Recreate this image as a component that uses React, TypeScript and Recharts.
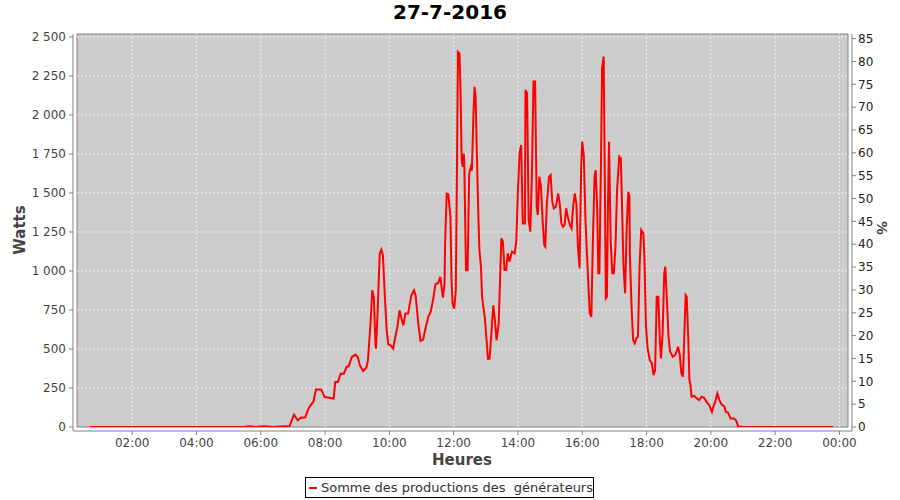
import React from "react";
import {
  LineChart,
  Line,
  XAxis,
  YAxis,
  ReferenceArea,
  ReferenceLine,
} from "recharts";

// heures de relevé (HH:MM) et puissance totale en watts
const TIMES = [
  "00:41", "01:10", "01:40", "02:10", "02:40", "03:10", "03:40", "04:10", "04:40", "05:10",
  "05:30", "05:36", "05:44", "05:50", "06:04", "06:14", "06:22", "06:38", "06:48", "06:53",
  "07:02", "07:09", "07:15", "07:23", "07:29", "07:34", "07:38", "07:43", "07:53", "07:59",
  "08:08", "08:16", "08:19", "08:24", "08:29", "08:35", "08:40", "08:44", "08:50", "08:57",
  "09:01", "09:05", "09:11", "09:17", "09:20", "09:25", "09:28", "09:31", "09:34", "09:35",
  "09:38", "09:42", "09:45", "09:48", "09:51", "09:55", "09:58", "10:02", "10:07", "10:11",
  "10:15", "10:19", "10:22", "10:26", "10:30", "10:35", "10:41", "10:46", "10:49", "10:54",
  "10:58", "11:03", "11:08", "11:13", "11:17", "11:22", "11:26", "11:31", "11:35", "11:40",
  "11:43", "11:44", "11:47", "11:50", "11:54", "11:56", "11:58", "12:01", "12:04", "12:06",
  "12:08", "12:11", "12:13", "12:15", "12:17", "12:19", "12:20", "12:23", "12:26", "12:29",
  "12:32", "12:34", "12:37", "12:39", "12:41", "12:43", "12:46", "12:48", "12:51", "12:53",
  "12:58", "13:01", "13:04", "13:07", "13:10", "13:12", "13:14", "13:17", "13:20", "13:24",
  "13:26", "13:29", "13:32", "13:35", "13:38", "13:41", "13:44", "13:49", "13:54", "13:57",
  "14:00", "14:03", "14:06", "14:09", "14:13", "14:14", "14:17", "14:20", "14:23", "14:26",
  "14:29", "14:32", "14:35", "14:37", "14:40", "14:43", "14:46", "14:49", "14:51", "14:54",
  "14:58", "15:01", "15:04", "15:07", "15:11", "15:15", "15:18", "15:21", "15:24", "15:27",
  "15:30", "15:33", "15:37", "15:40", "15:43", "15:46", "15:49", "15:52", "15:55", "15:58",
  "16:00", "16:03", "16:06", "16:09", "16:11", "16:14", "16:17", "16:20", "16:23", "16:25",
  "16:28", "16:30", "16:32", "16:35", "16:37", "16:40", "16:42", "16:44", "16:46", "16:48",
  "16:50", "16:53", "16:56", "16:59", "17:02", "17:05", "17:09", "17:12", "17:14", "17:17",
  "17:20", "17:23", "17:26", "17:28", "17:29", "17:32", "17:35", "17:38", "17:41", "17:44",
  "17:47", "17:50", "17:54", "17:56", "17:59", "18:02", "18:06", "18:10", "18:13", "18:16",
  "18:19", "18:22", "18:25", "18:27", "18:30", "18:33", "18:35", "18:38", "18:41", "18:44",
  "18:49", "18:53", "18:56", "18:59", "19:02", "19:05", "19:08", "19:11", "19:13", "19:15",
  "19:18", "19:20", "19:22", "19:24", "19:29", "19:34", "19:38", "19:43", "19:47", "19:52",
  "19:57", "20:02", "20:05", "20:08", "20:12", "20:16", "20:20", "20:25", "20:28", "20:32",
  "20:37", "20:43", "20:47", "20:51", "21:00", "21:30", "22:00", "22:30", "23:00", "23:30",
  "23:48",
];

const WATTS = [
  0, 0, 0, 0, 0, 0, 0, 0, 0, 0,
  0, 5, 4, 0, 4, 3, 0, 3, 4, 0,
  79, 43, 60, 62, 117, 145, 160, 241, 241, 192,
  188, 182, 288, 288, 342, 342, 385, 389, 449, 464,
  449, 395, 359, 380, 427, 673, 876, 833, 534, 502,
  727, 1111, 1137, 1100, 876, 620, 530, 524, 502, 577,
  641, 748, 705, 652, 727, 727, 844, 876, 844, 662,
  551, 560, 641, 710, 737, 823, 915, 923, 962, 830,
  919, 1175, 1496, 1492, 1346, 940, 791, 759, 876, 1581,
  2404, 2393, 2116, 1710, 1667, 1752, 1667, 1004, 1004, 1624,
  1667, 1645, 2009, 2180, 2116, 1795, 1368, 1133, 1026, 833,
  705, 577, 438, 438, 577, 684, 780, 684, 556, 662,
  876, 1209, 1188, 1006, 1006, 1113, 1060, 1124, 1113, 1199,
  1519, 1754, 1808, 1305, 1305, 2160, 2139, 1327, 1252, 1605,
  2214, 2214, 1412, 1359, 1605, 1540, 1327, 1167, 1156, 1434,
  1605, 1615, 1444, 1402, 1412, 1498, 1434, 1305, 1284, 1295,
  1402, 1348, 1295, 1273, 1412, 1498, 1434, 1156, 1017, 1669,
  1829, 1733, 1327, 1092, 942, 728, 707, 1220, 1605, 1647,
  1391, 985, 985, 1712, 2300, 2374, 1626, 825, 835, 1412,
  1829, 1199, 985, 985, 1156, 1519, 1733, 1722, 1455, 1028,
  857, 1284, 1508, 1476, 1092, 771, 557, 536, 568, 579,
  1028, 1263, 1241, 1092, 643, 504, 429, 408, 333, 365,
  835, 835, 536, 440, 600, 985, 1028, 814, 579, 483,
  450, 461, 483, 515, 461, 344, 322, 643, 846, 835,
  557, 301, 269, 194, 200, 183, 172, 194, 189, 161,
  140, 97, 133, 161, 215, 172, 144, 133, 97, 92,
  54, 54, 43, 4, 0, 0, 0, 0, 0, 0,
  0,
];

const HOUR_TICKS = [2, 4, 6, 8, 10, 12, 14, 16, 18, 20, 22, 24];
const WATT_TICKS = [0, 250, 500, 750, 1000, 1250, 1500, 1750, 2000, 2250, 2500];
const PCT_TICKS = [0, 5, 10, 15, 20, 25, 30, 35, 40, 45, 50, 55, 60, 65, 70, 75, 80, 85];

const X_MIN = 17;
const X_MAX = 1456;
const Y_MAX = 2519;
const PCT_MAX = 86;

const toMinutes = (s: string) => {
  const [h, m] = s.split(":").map(Number);
  return h * 60 + m;
};

const data = TIMES.map((t, i) => ({ t: toMinutes(t), w: WATTS[i] }));
const xTicks = HOUR_TICKS.map((h) => h * 60);

const fmtHour = (v: number) => {
  const h = Math.round(v / 60) % 24;
  return `${String(h).padStart(2, "0")}:00`;
};
const fmtWatt = (v: number) =>
  v >= 1000 ? `${Math.floor(v / 1000)} ${String(v % 1000).padStart(3, "0")}` : String(v);

const FONT = "'DejaVu Sans', sans-serif";
const GRID = "#eeeeee";
const AXIS = "#808080";

export default function App() {
  return (
    <div
      style={{
        position: "absolute",
        left: 0,
        top: 0,
        width: 900,
        height: 500,
        background: "#fff",
        fontFamily: FONT,
      }}
    >
      <div
        style={{
          position: "absolute",
          top: 0,
          left: 0,
          width: 900,
          textAlign: "center",
          fontWeight: "bold",
          fontSize: 20,
          lineHeight: "25px",
          color: "#000",
        }}
      >
        27-7-2016
      </div>

      <LineChart
        width={900}
        height={500}
        data={data}
        margin={{ top: 34, right: 0, bottom: 0, left: 0 }}
      >
        <XAxis
          dataKey="t"
          type="number"
          domain={[X_MIN, X_MAX]}
          ticks={xTicks}
          tickFormatter={fmtHour}
          allowDataOverflow
          height={69}
          padding={{ left: 4, right: 4 }}
          stroke={AXIS}
          tickSize={4}
          tickMargin={3}
          tick={{ fill: "#444", fontSize: 12, fontFamily: FONT }}
        />
        <YAxis
          type="number"
          domain={[0, Y_MAX]}
          ticks={WATT_TICKS}
          tickFormatter={fmtWatt}
          allowDataOverflow
          width={73}
          padding={{ top: 0, bottom: 4 }}
          stroke={AXIS}
          tickSize={4}
          tickMargin={3}
          tick={{ fill: "#444", fontSize: 12, fontFamily: FONT }}
        />
        <YAxis
          yAxisId="pct"
          orientation="right"
          type="number"
          domain={[0, PCT_MAX]}
          ticks={PCT_TICKS}
          allowDataOverflow
          width={48}
          padding={{ top: 0, bottom: 4 }}
          stroke={AXIS}
          tickSize={4}
          tickMargin={2}
          tick={{ fill: "#222", fontSize: 12, fontFamily: FONT }}
        />

        <ReferenceArea
          x1={X_MIN}
          x2={X_MAX}
          y1={0}
          y2={Y_MAX}
          fill="#cccccc"
          fillOpacity={1}
          stroke={AXIS}
          strokeWidth={1}
        />
        {xTicks.map((m) => (
          <ReferenceLine
            key={`v${m}`}
            segment={[
              { x: m, y: 0 },
              { x: m, y: Y_MAX },
            ]}
            stroke={GRID}
            strokeDasharray="2 2"
          />
        ))}
        {WATT_TICKS.filter((w) => w > 0).map((w) => (
          <ReferenceLine
            key={`h${w}`}
            segment={[
              { x: X_MIN, y: w },
              { x: X_MAX, y: w },
            ]}
            stroke={GRID}
            strokeDasharray="2 2"
          />
        ))}

        <Line
          type="linear"
          dataKey="w"
          stroke="#ff0000"
          strokeWidth={2}
          dot={false}
          isAnimationActive={false}
        />
      </LineChart>

      <div
        style={{
          position: "absolute",
          left: 20,
          top: 230,
          transform: "translate(-50%, -50%) rotate(-90deg)",
          fontWeight: "bold",
          fontSize: 15,
          color: "#444",
          whiteSpace: "nowrap",
        }}
      >
        Watts
      </div>
      <div
        style={{
          position: "absolute",
          left: 462,
          top: 460,
          transform: "translate(-50%, -50%)",
          fontWeight: "bold",
          fontSize: 15,
          color: "#444",
          whiteSpace: "nowrap",
        }}
      >
        Heures
      </div>
      <div
        style={{
          position: "absolute",
          left: 882,
          top: 228,
          transform: "translate(-50%, -50%) rotate(90deg)",
          fontWeight: "bold",
          fontSize: 14,
          color: "#444",
        }}
      >
        %
      </div>

      <div
        style={{
          position: "absolute",
          left: 305,
          top: 477,
          width: 287,
          height: 19,
          border: "1px solid #000",
          display: "flex",
          alignItems: "center",
          fontSize: 13,
          color: "#333",
          whiteSpace: "pre",
        }}
      >
        <span
          style={{
            display: "inline-block",
            width: 16,
            height: 2,
            background: "#ff0000",
            marginLeft: 3,
            marginRight: 4,
          }}
        />
        Somme des productions des  générateurs
      </div>
    </div>
  );
}
